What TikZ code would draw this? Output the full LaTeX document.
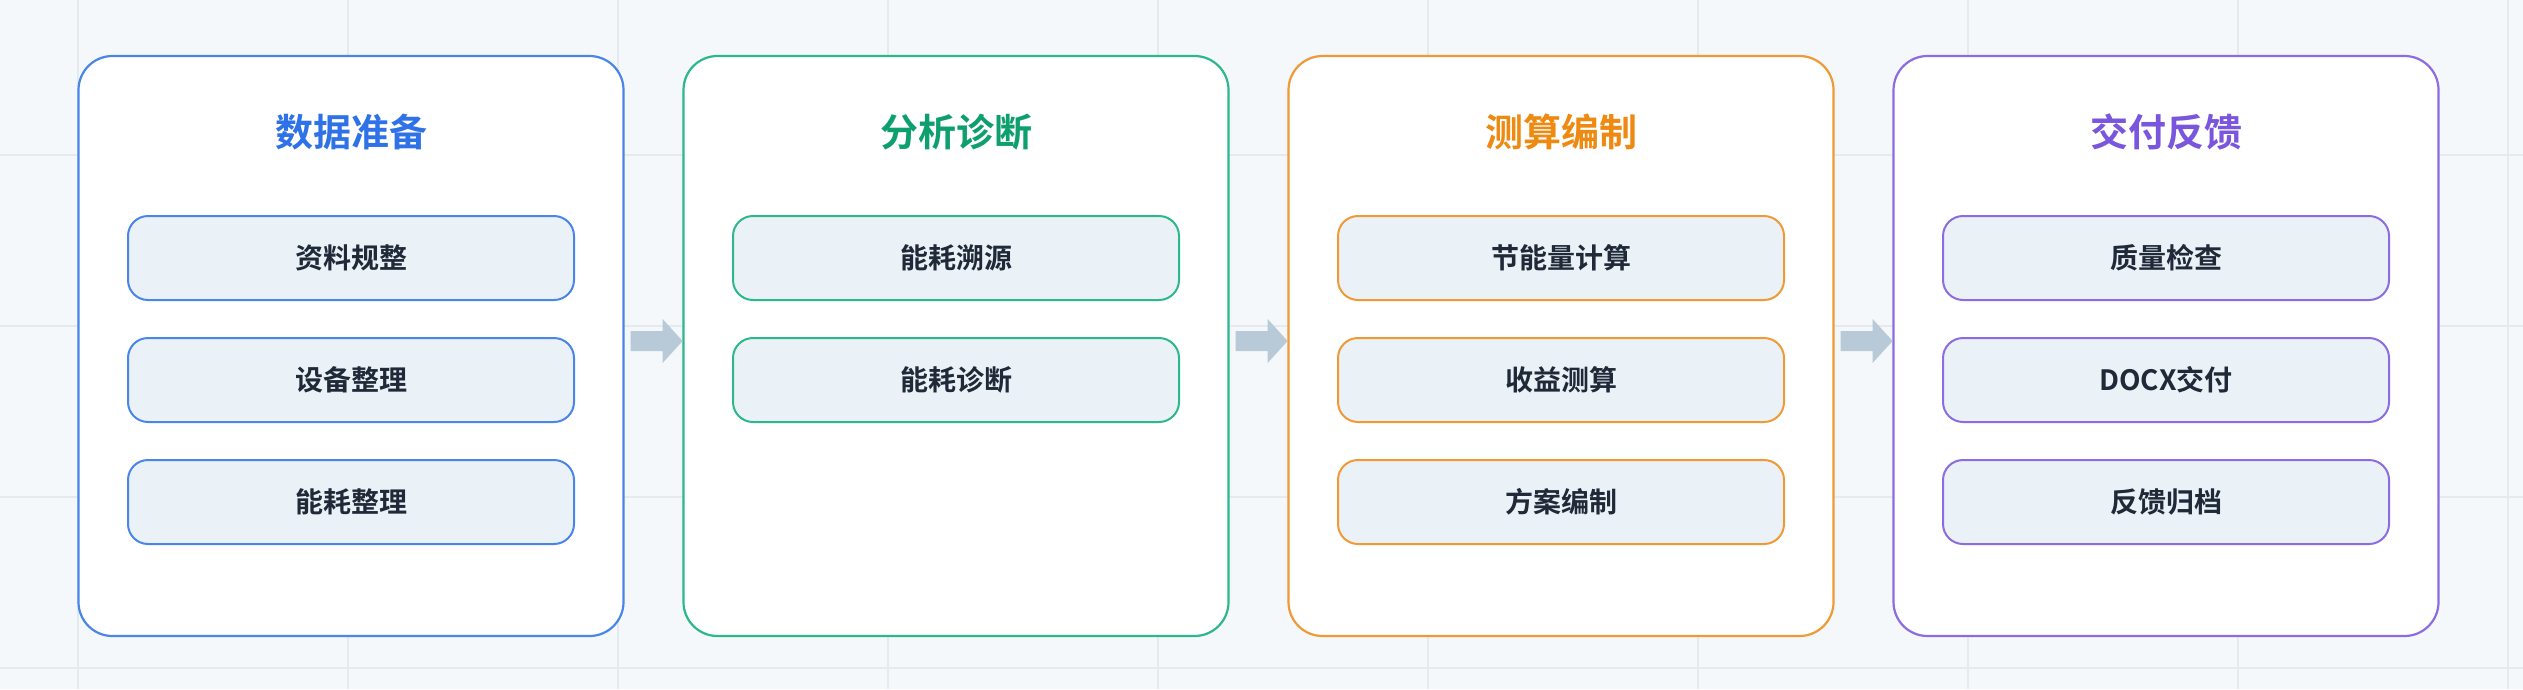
\documentclass[tikz,border=0pt]{standalone}
\usepackage{fontspec}
\newfontfamily\cjkb{Noto Sans CJK SC Bold}
\definecolor{bg}{HTML}{F5F8FA}
\definecolor{grid}{HTML}{E4EAF0}
\definecolor{innerfill}{HTML}{EAF2F8}
\definecolor{txt}{HTML}{1F2937}
\definecolor{arr}{HTML}{B8CAD8}
\definecolor{cA}{HTML}{4A86E8}\definecolor{tA}{HTML}{2F72E8}
\definecolor{cB}{HTML}{2DB88A}\definecolor{tB}{HTML}{0E9F6E}
\definecolor{cC}{HTML}{F09A36}\definecolor{tC}{HTML}{EE8A12}
\definecolor{cD}{HTML}{8C6CE0}\definecolor{tD}{HTML}{7A55DD}
\tikzset{
 outer/.style={draw=#1,line width=2.2pt,fill=white,rounded corners=34pt,minimum width=545pt,minimum height=580pt,inner sep=0pt},
 title/.style={text=#1,font=\cjkb\fontsize{38}{40}\selectfont},
 item/.style={draw=#1,line width=2pt,fill=innerfill,rounded corners=20pt,minimum width=446pt,minimum height=84pt,inner sep=0pt,text=txt,font=\cjkb\fontsize{28}{30}\selectfont},
 flow/.style={fill=arr,draw=none}
}
\begin{document}
\begin{tikzpicture}[x=1pt,y=-1pt]
\fill[bg] (0,0) rectangle (2523,689);
\useasboundingbox (0,0) rectangle (2523,689);
\foreach \gx in {78,348,618,888,1158,1428,1698,1968,2238,2508} \draw[grid,line width=1.2pt] (\gx,0) -- (\gx,689);
\foreach \gy in {155,326,497,668} \draw[grid,line width=1.2pt] (0,\gy) -- (2523,\gy);
\foreach \i/\c/\t/\tt/\a/\b/\d in {
 0/cA/tA/数据准备/资料规整/设备整理/能耗整理,
 1/cB/tB/分析诊断/能耗溯源/能耗诊断/,
 2/cC/tC/测算编制/节能量计算/收益测算/方案编制,
 3/cD/tD/交付反馈/质量检查/DOCX交付/反馈归档}{
 \pgfmathsetmacro{\cx}{351+605*\i}
 \node[outer=\c] (box\i) at (\cx,346) {};
 \node[title=\t] (title\i) at (\cx,132) {\tt};
 \node[item=\c] (a\i) at (\cx,258) {\a};
 \node[item=\c] (b\i) at (\cx,380) {\b};
 \if\relax\detokenize\expandafter{\d}\relax\else
 \node[item=\c] (d\i) at (\cx,502) {\d};\fi
}
\foreach \i/\j in {0/1,1/2,2/3}{
 \path (box\i.east) ++(6,-5) coordinate (s\i);
 \fill[arr] (s\i) ++(0,-10) -- ++(32,0) -- ++(0,-12) -- ++(20,22) -- ++(-20,22) -- ++(0,-12) -- ++(-32,0) -- cycle;
}
\end{tikzpicture}
\end{document}
